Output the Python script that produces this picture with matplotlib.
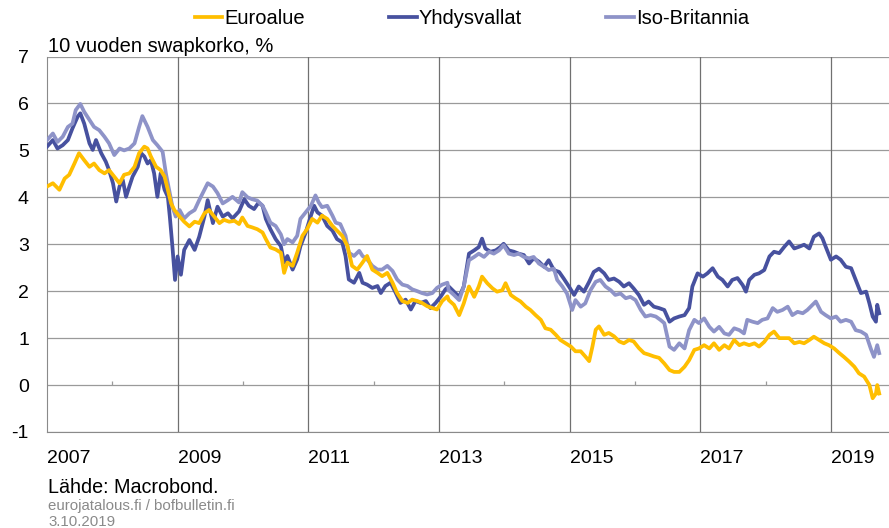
import matplotlib.pyplot as plt

plt.rcParams['font.family'] = ['Liberation Sans', 'DejaVu Sans']

# Data (decimal years, percent)

# Euroalue
euro_t = [2007.00, 2007.09, 2007.19, 2007.27, 2007.34, 2007.42, 2007.49, 2007.57, 2007.65, 2007.72,
          2007.80, 2007.88, 2007.95, 2008.03, 2008.11, 2008.18, 2008.26, 2008.34, 2008.41, 2008.49,
          2008.54, 2008.59, 2008.67, 2008.74, 2008.80, 2008.85, 2008.90, 2008.95, 2009.03, 2009.10,
          2009.18, 2009.26, 2009.33, 2009.41, 2009.48, 2009.56, 2009.64, 2009.71, 2009.79, 2009.87,
          2009.94, 2009.99, 2010.07, 2010.14, 2010.22, 2010.30, 2010.35, 2010.42, 2010.50, 2010.58,
          2010.63, 2010.68, 2010.76, 2010.83, 2010.91, 2010.98, 2011.06, 2011.14, 2011.21, 2011.29,
          2011.37, 2011.44, 2011.52, 2011.60, 2011.67, 2011.75, 2011.83, 2011.90, 2011.98, 2012.06,
          2012.13, 2012.21, 2012.29, 2012.36, 2012.44, 2012.52, 2012.59, 2012.67, 2012.74, 2012.82,
          2012.90, 2012.97, 2013.05, 2013.13, 2013.15, 2013.23, 2013.31, 2013.38, 2013.46, 2013.54,
          2013.61, 2013.66, 2013.74, 2013.82, 2013.89, 2013.97, 2014.02, 2014.10, 2014.17, 2014.25,
          2014.33, 2014.40, 2014.48, 2014.56, 2014.63, 2014.71, 2014.79, 2014.86, 2014.94, 2015.02,
          2015.09, 2015.17, 2015.24, 2015.30, 2015.35, 2015.40, 2015.45, 2015.53, 2015.60, 2015.68,
          2015.76, 2015.83, 2015.91, 2015.98, 2016.06, 2016.14, 2016.21, 2016.29, 2016.37, 2016.45,
          2016.53, 2016.60, 2016.68, 2016.76, 2016.83, 2016.91, 2016.98, 2017.06, 2017.14, 2017.21,
          2017.29, 2017.37, 2017.44, 2017.52, 2017.60, 2017.67, 2017.75, 2017.83, 2017.90, 2017.98,
          2018.06, 2018.13, 2018.21, 2018.29, 2018.36, 2018.44, 2018.52, 2018.59, 2018.67, 2018.74,
          2018.82, 2018.90, 2018.97, 2019.05, 2019.13, 2019.20, 2019.28, 2019.36, 2019.43, 2019.51,
          2019.59, 2019.64, 2019.69, 2019.71, 2019.74]
euro_v = [4.23, 4.30, 4.16, 4.40, 4.48, 4.72, 4.94, 4.79, 4.65, 4.72,
          4.58, 4.51, 4.58, 4.44, 4.30, 4.48, 4.51, 4.65, 4.94, 5.08,
          5.04, 4.87, 4.65, 4.58, 4.44, 4.16, 3.87, 3.73, 3.59, 3.48,
          3.38, 3.48, 3.45, 3.66, 3.73, 3.59, 3.45, 3.52, 3.48, 3.50,
          3.43, 3.57, 3.39, 3.36, 3.32, 3.25, 3.11, 2.93, 2.89, 2.82,
          2.39, 2.61, 2.54, 2.82, 3.18, 3.32, 3.54, 3.46, 3.61, 3.54,
          3.39, 3.29, 3.18, 2.96, 2.54, 2.46, 2.61, 2.75, 2.46, 2.39,
          2.32, 2.39, 2.18, 1.96, 1.79, 1.75, 1.82, 1.79, 1.75, 1.68,
          1.64, 1.61, 1.79, 1.89, 1.81, 1.71, 1.49, 1.74, 2.10, 1.88,
          2.10, 2.31, 2.17, 2.06, 1.99, 2.02, 2.17, 1.92, 1.85, 1.78,
          1.67, 1.60, 1.49, 1.39, 1.21, 1.18, 1.07, 0.96, 0.89, 0.82,
          0.72, 0.72, 0.61, 0.51, 0.82, 1.18, 1.25, 1.07, 1.11, 1.04,
          0.93, 0.89, 0.96, 0.93, 0.79, 0.68, 0.65, 0.61, 0.58, 0.46,
          0.32, 0.28, 0.28, 0.39, 0.53, 0.75, 0.78, 0.85, 0.78, 0.89,
          0.75, 0.85, 0.78, 0.96, 0.85, 0.89, 0.85, 0.89, 0.82, 0.92,
          1.07, 1.14, 1.00, 1.00, 1.00, 0.89, 0.92, 0.89, 0.96, 1.03,
          0.96, 0.89, 0.85, 0.78, 0.68, 0.60, 0.50, 0.39, 0.25, 0.18,
          0.00, -0.28, -0.18, 0.00, -0.18]

# Yhdysvallat
us_t = [2007.00, 2007.09, 2007.16, 2007.24, 2007.32, 2007.39, 2007.47, 2007.51, 2007.57, 2007.65,
        2007.70, 2007.75, 2007.83, 2007.90, 2007.95, 2008.01, 2008.06, 2008.11, 2008.16, 2008.21,
        2008.26, 2008.31, 2008.39, 2008.44, 2008.49, 2008.54, 2008.59, 2008.64, 2008.69, 2008.74,
        2008.80, 2008.85, 2008.88, 2008.92, 2008.96, 2009.00, 2009.05, 2009.10, 2009.18, 2009.26,
        2009.33, 2009.41, 2009.46, 2009.54, 2009.61, 2009.69, 2009.77, 2009.84, 2009.94, 2010.02,
        2010.09, 2010.17, 2010.24, 2010.30, 2010.35, 2010.42, 2010.50, 2010.58, 2010.63, 2010.68,
        2010.76, 2010.83, 2010.88, 2010.96, 2011.04, 2011.09, 2011.14, 2011.21, 2011.29, 2011.37,
        2011.44, 2011.52, 2011.57, 2011.62, 2011.70, 2011.78, 2011.83, 2011.90, 2011.98, 2012.06,
        2012.11, 2012.18, 2012.26, 2012.34, 2012.41, 2012.49, 2012.57, 2012.64, 2012.72, 2012.80,
        2012.87, 2012.95, 2013.03, 2013.10, 2013.15, 2013.23, 2013.31, 2013.38, 2013.46, 2013.54,
        2013.61, 2013.66, 2013.71, 2013.79, 2013.87, 2013.94, 2013.99, 2014.07, 2014.15, 2014.22,
        2014.30, 2014.38, 2014.45, 2014.53, 2014.61, 2014.68, 2014.76, 2014.84, 2014.91, 2014.99,
        2015.07, 2015.14, 2015.22, 2015.30, 2015.37, 2015.45, 2015.53, 2015.60, 2015.68, 2015.76,
        2015.83, 2015.91, 2015.98, 2016.06, 2016.14, 2016.21, 2016.29, 2016.37, 2016.45, 2016.53,
        2016.60, 2016.68, 2016.76, 2016.83, 2016.88, 2016.96, 2017.04, 2017.11, 2017.19, 2017.27,
        2017.34, 2017.42, 2017.49, 2017.57, 2017.65, 2017.70, 2017.75, 2017.83, 2017.90, 2017.98,
        2018.06, 2018.13, 2018.21, 2018.29, 2018.36, 2018.44, 2018.52, 2018.59, 2018.67, 2018.74,
        2018.82, 2018.87, 2018.92, 2019.00, 2019.08, 2019.15, 2019.23, 2019.31, 2019.38, 2019.46,
        2019.54, 2019.59, 2019.64, 2019.69, 2019.71, 2019.74]
us_v = [5.08, 5.22, 5.04, 5.11, 5.22, 5.47, 5.72, 5.79, 5.57, 5.15,
        5.01, 5.22, 4.94, 4.76, 4.58, 4.30, 3.91, 4.23, 4.37, 4.01,
        4.23, 4.44, 4.65, 4.94, 4.87, 4.72, 4.79, 4.51, 4.01, 4.51,
        4.16, 4.01, 3.59, 2.95, 2.24, 2.74, 2.35, 2.88, 3.09, 2.88,
        3.16, 3.59, 3.94, 3.45, 3.80, 3.59, 3.66, 3.55, 3.70, 3.96,
        3.82, 3.75, 3.89, 3.82, 3.54, 3.32, 3.11, 2.96, 2.61, 2.75,
        2.46, 2.68, 2.96, 3.25, 3.61, 3.82, 3.68, 3.61, 3.39, 3.29,
        3.11, 3.04, 2.75, 2.25, 2.18, 2.39, 2.18, 2.14, 2.07, 2.11,
        1.96, 2.11, 2.18, 1.96, 1.75, 1.82, 1.61, 1.79, 1.75, 1.79,
        1.64, 1.75, 1.89, 2.04, 2.10, 1.99, 1.88, 2.10, 2.80, 2.87,
        2.94, 3.12, 2.91, 2.84, 2.87, 2.94, 3.01, 2.87, 2.84, 2.80,
        2.77, 2.59, 2.70, 2.63, 2.52, 2.66, 2.45, 2.41, 2.27, 2.10,
        1.92, 2.10, 1.99, 2.20, 2.41, 2.48, 2.38, 2.24, 2.27, 2.20,
        2.10, 2.17, 2.06, 1.92, 1.71, 1.78, 1.67, 1.64, 1.60, 1.35,
        1.42, 1.46, 1.49, 1.64, 2.10, 2.38, 2.31, 2.38, 2.49, 2.31,
        2.24, 2.10, 2.24, 2.28, 2.13, 1.99, 2.24, 2.35, 2.38, 2.45,
        2.74, 2.84, 2.81, 2.95, 3.06, 2.91, 2.95, 2.99, 2.91, 3.16,
        3.23, 3.13, 2.95, 2.67, 2.74, 2.67, 2.52, 2.49, 2.24, 1.96,
        1.99, 1.74, 1.46, 1.35, 1.71, 1.53]

# Iso-Britannia
uk_t = [2007.00, 2007.09, 2007.16, 2007.24, 2007.32, 2007.39, 2007.44, 2007.51, 2007.57, 2007.65,
        2007.72, 2007.80, 2007.88, 2007.95, 2008.03, 2008.11, 2008.18, 2008.26, 2008.34, 2008.41,
        2008.46, 2008.54, 2008.62, 2008.69, 2008.77, 2008.82, 2008.87, 2008.92, 2008.97, 2009.03,
        2009.10, 2009.18, 2009.26, 2009.33, 2009.41, 2009.46, 2009.54, 2009.61, 2009.69, 2009.77,
        2009.84, 2009.94, 2009.99, 2010.07, 2010.14, 2010.22, 2010.30, 2010.35, 2010.42, 2010.50,
        2010.58, 2010.63, 2010.68, 2010.76, 2010.83, 2010.88, 2010.96, 2011.04, 2011.11, 2011.16,
        2011.21, 2011.29, 2011.37, 2011.42, 2011.49, 2011.57, 2011.62, 2011.70, 2011.78, 2011.83,
        2011.90, 2011.98, 2012.06, 2012.13, 2012.21, 2012.29, 2012.36, 2012.44, 2012.52, 2012.59,
        2012.67, 2012.74, 2012.82, 2012.90, 2012.97, 2013.05, 2013.13, 2013.15, 2013.23, 2013.31,
        2013.38, 2013.46, 2013.54, 2013.61, 2013.69, 2013.77, 2013.84, 2013.92, 2013.99, 2014.07,
        2014.15, 2014.22, 2014.30, 2014.38, 2014.45, 2014.53, 2014.61, 2014.68, 2014.76, 2014.81,
        2014.89, 2014.96, 2015.04, 2015.09, 2015.17, 2015.24, 2015.32, 2015.40, 2015.47, 2015.55,
        2015.63, 2015.70, 2015.78, 2015.86, 2015.93, 2016.01, 2016.09, 2016.16, 2016.24, 2016.32,
        2016.39, 2016.45, 2016.53, 2016.60, 2016.68, 2016.76, 2016.83, 2016.91, 2016.98, 2017.06,
        2017.14, 2017.21, 2017.29, 2017.37, 2017.44, 2017.52, 2017.60, 2017.67, 2017.72, 2017.80,
        2017.88, 2017.95, 2018.03, 2018.11, 2018.18, 2018.26, 2018.34, 2018.41, 2018.49, 2018.57,
        2018.64, 2018.72, 2018.77, 2018.85, 2018.92, 2019.00, 2019.08, 2019.15, 2019.23, 2019.31,
        2019.38, 2019.46, 2019.54, 2019.61, 2019.66, 2019.71, 2019.74]
uk_v = [5.22, 5.36, 5.18, 5.29, 5.50, 5.57, 5.86, 5.99, 5.82, 5.65,
        5.50, 5.43, 5.29, 5.15, 4.90, 5.04, 5.00, 5.04, 5.15, 5.50,
        5.73, 5.50, 5.22, 5.11, 4.97, 4.51, 4.16, 3.80, 3.59, 3.73,
        3.55, 3.66, 3.73, 3.94, 4.16, 4.30, 4.23, 4.09, 3.87, 3.94,
        4.01, 3.89, 4.11, 4.00, 3.96, 3.93, 3.82, 3.68, 3.46, 3.39,
        3.21, 3.00, 3.11, 3.04, 3.18, 3.54, 3.68, 3.82, 4.04, 3.89,
        3.79, 3.82, 3.61, 3.46, 3.43, 3.18, 2.82, 2.75, 2.86, 2.75,
        2.68, 2.54, 2.46, 2.46, 2.54, 2.43, 2.25, 2.14, 2.11, 2.04,
        2.00, 1.96, 1.93, 1.96, 2.07, 2.14, 2.18, 2.02, 1.92, 1.81,
        2.10, 2.66, 2.73, 2.80, 2.73, 2.84, 2.80, 2.87, 2.98, 2.80,
        2.77, 2.80, 2.73, 2.70, 2.73, 2.59, 2.52, 2.45, 2.48, 2.24,
        2.10, 1.95, 1.60, 1.81, 1.67, 1.74, 2.02, 2.20, 2.24, 2.10,
        2.02, 1.92, 1.95, 1.85, 1.88, 1.81, 1.60, 1.46, 1.49, 1.46,
        1.39, 1.32, 0.82, 0.75, 0.89, 0.78, 1.17, 1.39, 1.32, 1.42,
        1.24, 1.14, 1.24, 1.10, 1.07, 1.21, 1.17, 1.10, 1.39, 1.35,
        1.32, 1.39, 1.42, 1.64, 1.56, 1.60, 1.67, 1.49, 1.56, 1.53,
        1.60, 1.71, 1.78, 1.56, 1.49, 1.42, 1.46, 1.35, 1.39, 1.35,
        1.17, 1.14, 1.07, 0.78, 0.60, 0.85, 0.68]

year_ticks = [2007, 2009, 2011, 2013, 2015, 2017, 2019]
minor_years = [2008, 2010, 2012, 2014, 2016, 2018]
y_ticks = [-1, 0, 1, 2, 3, 4, 5, 6, 7]

col_euro = '#FFBE00'
col_us = '#47519F'
col_uk = '#8E93C8'

fig = plt.figure(figsize=(8.89, 5.28), dpi=100)
ax = fig.add_axes([47 / 889, 1 - 432 / 528, 842 / 889, 375.5 / 528])

# grid
for v in y_ticks:
    ax.axhline(v, color='#9a9a9a', lw=0.9, zorder=1)
for yr in year_ticks[1:]:
    ax.axvline(yr, color='#707070', lw=0.9, zorder=1)
ax.vlines(minor_years, 0, 0.09, color='#9a9a9a', lw=0.9, zorder=1)

ax.plot(us_t, us_v, color=col_us, lw=2.7, zorder=3, label='Yhdysvallat')
ax.plot(uk_t, uk_v, color=col_uk, lw=2.7, zorder=4, label='Iso-Britannia')
ax.plot(euro_t, euro_v, color=col_euro, lw=2.7, zorder=5, label='Euroalue')

ax.set_xlim(2007.0, 2019.89)
ax.set_ylim(-1, 7)

ax.set_yticks(y_ticks)
ax.set_yticklabels([str(v) for v in y_ticks])
ax.set_xticks(year_ticks)
ax.set_xticklabels([str(y) for y in year_ticks], ha='left')
ax.tick_params(axis='both', length=0, labelsize=14, colors='black')
ax.tick_params(axis='y', pad=13)
ax.tick_params(axis='x', pad=13)

for s in ['top', 'right']:
    ax.spines[s].set_visible(False)
ax.spines['left'].set_color('#8a8a8a')
ax.spines['bottom'].set_color('#8a8a8a')

# legend in the order of the original
handles, labels = ax.get_legend_handles_labels()
order = [2, 0, 1]
fig.legend([handles[i] for i in order], [labels[i] for i in order],
           loc='center left', bbox_to_anchor=(195 / 889, 1 - 18.5 / 528),
           ncol=3, frameon=False, fontsize=14.5, handlelength=1.35,
           handletextpad=0.1, columnspacing=4.2, borderpad=0, borderaxespad=0)

fig.text(48 / 889, 1 - 51.7 / 528, '10 vuoden swapkorko, %', fontsize=14.5, va='baseline')
fig.text(48 / 889, 1 - 493 / 528, 'Lähde: Macrobond.', fontsize=14.2, va='baseline')
fig.text(48 / 889, 1 - 510 / 528, 'eurojatalous.fi / bofbulletin.fi', fontsize=10.8,
         color='#8a8a8a', va='baseline')
fig.text(48 / 889, 1 - 526 / 528, '3.10.2019', fontsize=10.8, color='#8a8a8a', va='baseline')

fig.savefig('out.png', dpi=100)
